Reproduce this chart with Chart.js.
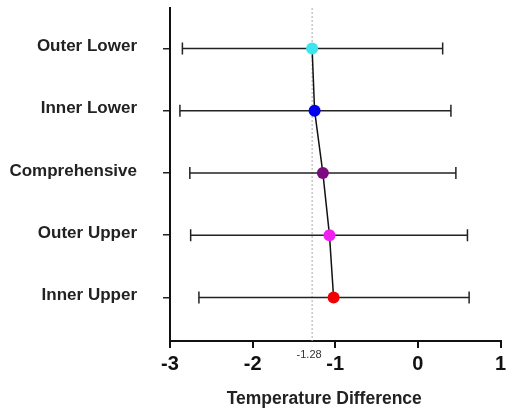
<!DOCTYPE html>
<html>
<head>
<meta charset="utf-8">
<script src="https://cdn.jsdelivr.net/npm/chart.js@4"></script>
<style>
  body { margin: 0; background: #fff; }
  #wrap { width: 508px; height: 414px; }
</style>
</head>
<body>
<div id="wrap"><canvas id="forest" width="508" height="414"></canvas></div>
<script>
// data
const groups = ['Outer Lower', 'Inner Lower', 'Comprehensive', 'Outer Upper', 'Inner Upper'];
const means = [-1.28, -1.25, -1.15, -1.07, -1.02];
const lower = [-2.85, -2.88, -2.76, -2.75, -2.65];
const upper = [0.30, 0.40, 0.46, 0.60, 0.62];
const dotColors = ['#3de6ee', '#0000ee', '#7c0a80', '#f020f0', '#f00000'];
const refValue = -1.28;
const xTicks = [-3, -2, -1, 0, 1];
const xTitle = 'Temperature Difference';

const FONT = '"Liberation Sans", Arial, sans-serif';

// one small dataset per error bar, caps come from rotated 'line' points
const barSets = groups.map((g, i) => ({
  type: 'line',
  data: [{ x: lower[i], y: i }, { x: upper[i], y: i }],
  borderColor: '#222',
  borderWidth: 1.5,
  pointStyle: 'line',
  rotation: 90,
  pointRadius: 6,
  pointBorderColor: '#222',
  pointBorderWidth: 1.5,
  order: 2
}));

// small ref value under the axis + axis title (sits a bit left of centre in the original)
const extraText = {
  id: 'extraText',
  afterDraw(chart) {
    const { ctx, scales, chartArea } = chart;
    const px = scales.x.getPixelForValue(refValue);
    ctx.save();
    ctx.textAlign = 'center';
    ctx.textBaseline = 'middle';
    ctx.font = '11px ' + FONT;
    ctx.fillStyle = '#333';
    ctx.fillText(String(refValue), px - 3, 355);
    ctx.font = 'bold 17.5px ' + FONT;
    ctx.fillStyle = '#222';
    ctx.fillText(xTitle, (chartArea.left + chartArea.right) / 2 - 11, 399);
    ctx.restore();
  }
};

new Chart(document.getElementById('forest'), {
  type: 'scatter',
  data: {
    datasets: [
      {
        type: 'line',
        data: means.map((m, i) => ({ x: m, y: i })),
        borderColor: '#111',
        borderWidth: 1.5,
        pointRadius: 6,
        pointBackgroundColor: dotColors,
        pointBorderColor: dotColors,
        pointBorderWidth: 0,
        order: 0
      },
      ...barSets,
      {
        type: 'line',
        data: [{ x: refValue, y: -0.65 }, { x: refValue, y: 4.7 }],
        borderColor: '#aaa',
        borderWidth: 1,
        borderDash: [2, 2],
        pointRadius: 0,
        order: 3
      }
    ]
  },
  options: {
    responsive: false,
    animation: false,
    events: [],
    layout: { padding: { top: 8, right: 7, left: 0, bottom: 0 } },
    plugins: { legend: { display: false }, tooltip: { enabled: false } },
    scales: {
      x: {
        type: 'linear',
        min: -3,
        max: 1,
        afterBuildTicks: s => { s.ticks = xTicks.map(v => ({ value: v })); },
        afterFit: s => { s.height = 73; s.paddingLeft = 0; s.paddingRight = 0; },
        ticks: { color: '#111', font: { family: FONT, size: 20, weight: 'bold' }, padding: 4 },
        grid: { drawOnChartArea: false, color: '#111', lineWidth: 2, tickLength: 7 },
        border: { color: '#111', width: 2 }
      },
      y: {
        type: 'linear',
        reverse: true,
        min: -0.65,
        max: 4.7,
        afterBuildTicks: s => { s.ticks = groups.map((g, i) => ({ value: i })); },
        afterFit: s => { s.width = 170; s.paddingTop = 0; s.paddingBottom = 0; },
        ticks: {
          color: '#222',
          font: { family: FONT, size: 17, weight: 'bold' },
          padding: 26,
          labelOffset: -2,
          callback: v => groups[v]
        },
        grid: { drawOnChartArea: false, color: '#222', lineWidth: 1.5, tickLength: 7 },
        border: { color: '#111', width: 2 }
      }
    }
  },
  plugins: [extraText]
});
</script>
</body>
</html>
